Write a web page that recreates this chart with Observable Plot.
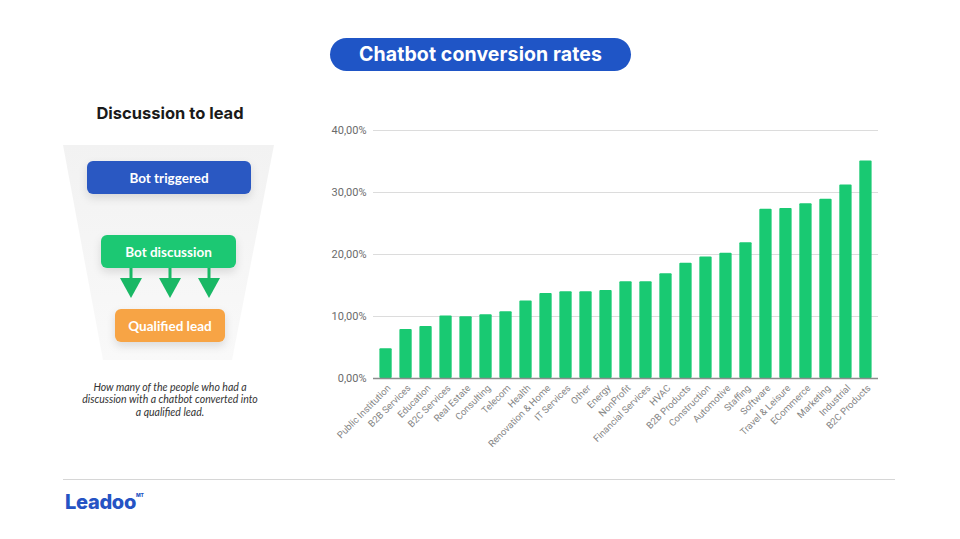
<!DOCTYPE html>
<html><head><meta charset="utf-8">
<script src="https://cdn.jsdelivr.net/npm/d3@7"></script>
<script src="https://cdn.jsdelivr.net/npm/@observablehq/plot@0.6"></script>
<style>
body{margin:0;background:#fff;}
#page{position:relative;width:960px;height:539px;overflow:hidden;font-family:Lato,"Open Sans",sans-serif;background:#fff;}
.abs{position:absolute;}
#title{left:330px;top:38px;width:301px;height:33px;border-radius:17px;background:#1f55c6;color:#fff;font-family:Inter,"Open Sans",sans-serif;font-weight:700;font-size:19.5px;line-height:33px;text-align:center;letter-spacing:0.1px;}
#subtitle{left:60px;top:103px;width:220px;text-align:center;font-family:Inter,"Open Sans",sans-serif;font-weight:700;font-size:16.5px;color:#1a1a1a;}
#caption{left:60px;top:381px;width:220px;text-align:center;font-family:Lato,sans-serif;font-style:italic;font-size:10.5px;line-height:12.4px;color:#333;}
#rule{left:63px;top:479px;width:832px;height:1px;background:#d6d6d6;}
#logo{left:65px;top:490px;font-family:Inter,"Open Sans",sans-serif;font-weight:800;font-size:20px;color:#2553c4;letter-spacing:-0.3px;}
#logo sup{font-size:5px;color:#2553c4;vertical-align:top;position:relative;top:2px;}
#chart{left:300px;top:110px;}
</style></head>
<body><div id="page">
<svg class="abs" style="left:0;top:0" width="300" height="380">
  <defs>
    <linearGradient id="fg" x1="0" y1="0" x2="0" y2="1">
      <stop offset="0" stop-color="#f2f2f2"/>
      <stop offset="1" stop-color="#f9f9f9"/>
    </linearGradient>
    <filter id="sh" x="-20%" y="-20%" width="140%" height="160%">
      <feDropShadow dx="0" dy="4" stdDeviation="4" flood-color="#000" flood-opacity="0.12"/>
    </filter>
  </defs>
  <polygon points="63,145 274,145 232,360 103,360" fill="url(#fg)"/>
  <rect x="87" y="161" width="164" height="33" rx="6" fill="#2b58c2" filter="url(#sh)"/>
  <rect x="101" y="235" width="135" height="33" rx="6" fill="#1ec873" filter="url(#sh)"/>
  <rect x="115" y="309" width="110" height="33" rx="6" fill="#f7a444" filter="url(#sh)"/>
  <g fill="#19b865">
    <rect x="129.5" y="268" width="3" height="12"/><polygon points="120,278 142,278 131,298"/>
    <rect x="168.5" y="268" width="3" height="12"/><polygon points="159,278 181,278 170,298"/>
    <rect x="207.5" y="268" width="3" height="12"/><polygon points="198,278 220,278 209,298"/>
  </g>
  <g font-family="Lato,sans-serif" font-weight="700" fill="#fff" text-anchor="middle" font-size="13.5">
    <text x="169" y="182.5">Bot triggered</text>
    <text x="168.5" y="256.5">Bot discussion</text>
    <text x="170" y="330.5">Qualified lead</text>
  </g>
</svg>
<div id="title" class="abs">Chatbot conversion rates</div>
<div id="subtitle" class="abs">Discussion to lead</div>
<div id="caption" class="abs">How many of the people who had a<br>discussion with a chatbot converted into<br>a qualified lead.</div>
<div id="chart" class="abs"></div>
<div id="rule" class="abs"></div>
<div id="logo" class="abs">Leadoo<sup>MT</sup></div>
</div>
<script>
const categories = ["Public Institution","B2B Services","Education","B2C Services","Real Estate","Consulting","Telecom","Health","Renovation & Home","IT Services","Other","Energy","NonProfit","Financial Services","HVAC","B2B Products","Construction","Automotive","Staffing","Software","Travel & Leisure","ECommerce","Marketing","Industrial","B2C Products"];
const rates = [0.048,0.079,0.084,0.101,0.0995,0.103,0.1075,0.125,0.137,0.140,0.140,0.142,0.156,0.156,0.169,0.186,0.196,0.202,0.219,0.273,0.274,0.282,0.289,0.312,0.351];
const yTicks = [0,0.1,0.2,0.3,0.4];
const data = categories.map((c,i)=>({category:c, rate:rates[i]}));
const fmt = d => (d*100).toFixed(2).replace(".", ",") + "%";
const chart = Plot.plot({
  width:590, height:340, marginLeft:73, marginRight:12, marginTop:20, marginBottom:72,
  style:{fontFamily:"Roboto, sans-serif", background:"transparent", overflow:"visible"},
  x:{domain:categories, paddingInner:0.385, paddingOuter:0.32, round:false, axis:null},
  y:{domain:[0,0.4], axis:null},
  marks:[
    Plot.ruleY(yTicks.slice(1), {stroke:"#dcdcdc", strokeWidth:1}),
    Plot.barY(data, {x:"category", y:"rate", fill:"#19c972", rx:1}),
    Plot.ruleY([0], {stroke:"#8c8c8c", strokeWidth:1.5}),
    Plot.axisY({ticks:yTicks, tickFormat:fmt, tickSize:0, tickPadding:7, fontSize:11, fill:"#6b6b6b", label:null}),
    Plot.axisX({tickRotate:-45, tickSize:0, tickPadding:8, dx:3, fontSize:9.5, fill:"#858585", label:null})
  ]
});
document.getElementById("chart").appendChild(chart);
</script>
</body></html>
